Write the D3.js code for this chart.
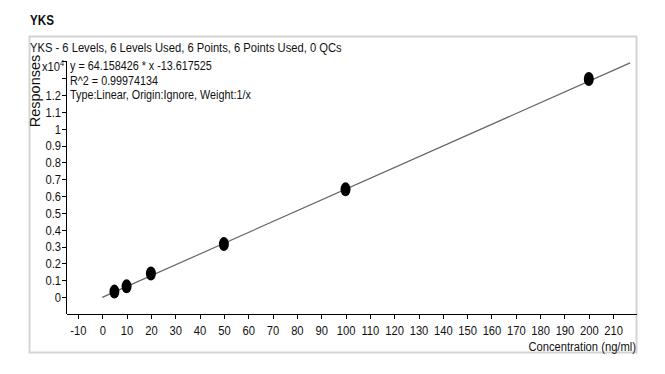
<!DOCTYPE html>
<meta charset="utf-8">
<title>YKS calibration</title>
<style>
body { margin: 0; background: #fff; }
text { font-family: "Liberation Sans", Arial, sans-serif; fill: #111; }
.axis path, .axis line { stroke: #000; shape-rendering: crispEdges; }
</style>
<body>
<svg></svg>
<script src="https://d3js.org/d3.v7.min.js"></script>
<script>

var width = 665,
    height = 374,
    narrowX = 0.83; // fake a narrow face, no Arial Narrow here

// calibration data (concentration ng/ml, response)
var concentrations = [5, 10, 20, 50, 100, 200];
var responses = [330, 640, 1400, 3150, 6400, 12950];
var slope = 64.158426,
    intercept = -13.617525;
var xTicks = d3.range(-10, 211, 10);
var yTicks = [0, 0.1, 0.2, 0.3, 0.4, 0.5, 0.6, 0.7, 0.8, 0.9, 1, 1.1, 1.2, 1.3, 1.4];
var yTickLabels = ["0", "0.1", "0.2", "0.3", "0.4", "0.5", "0.6", "0.7", "0.8", "0.9", "1", "1.1", "1.2", "", ""];
var infoLines = ["y = 64.158426 * x  -13.617525", "R^2 = 0.99974134", "Type:Linear, Origin:Ignore, Weight:1/x"];

var svg = d3.select("svg").attr("width", width).attr("height", height);

function ntext(px, py, str, size, anchor) {
    return svg.append("text")
        .attr("transform", "translate(" + px + "," + py + ") scale(" + narrowX + ",1)")
        .attr("text-anchor", anchor || "start")
        .style("font-size", size + "px")
        .text(str);
}

// outer panel
svg.append("rect")
    .attr("x", 29.5).attr("y", 36.5).attr("width", 607).attr("height", 316)
    .attr("fill", "none").attr("stroke", "#d4d4d4").attr("stroke-width", 2);

ntext(30, 25, "YKS", 14).style("font-weight", "bold");
ntext(30, 52, "YKS - 6 Levels, 6 Levels Used, 6 Points, 6 Points Used, 0 QCs", 13.5);

var x = d3.scaleLinear().domain([-14.9, 219.4]).range([66, 636]);
var y = d3.scaleLinear().domain([-0.1, 1.4]).range([314, 61.3]);

// x axis
var xAxis = svg.append("g")
    .attr("class", "axis")
    .attr("transform", "translate(0,314)")
    .call(d3.axisBottom(x).tickValues(xTicks).tickSize(5).tickSizeOuter(0)
        .tickFormat(d => String(d)));
xAxis.selectAll("text")
    .style("font-size", "13.5px")
    .attr("dy", "0.95em")
    .attr("fill", "#111")
    .attr("transform", "scale(" + narrowX + ",1)");

// y axis
var yAxis = svg.append("g")
    .attr("class", "axis")
    .attr("transform", "translate(66,0)")
    .call(d3.axisLeft(y).tickValues(yTicks).tickSize(4).tickSizeOuter(0)
        .tickFormat((d, i) => yTickLabels[i]));
yAxis.select(".domain").attr("d", "M0," + y(-0.1) + "V" + y(1.4));
yAxis.selectAll("text")
    .style("font-size", "13.5px")
    .attr("x", -5 / narrowX)
    .attr("fill", "#111")
    .attr("transform", "scale(" + narrowX + ",1)");

// exponent label
var expo = ntext(42, 71, "", 13.5);
expo.append("tspan").text("x10");
expo.append("tspan").attr("dy", -5).style("font-size", "9px").text("4");

svg.append("text")
    .attr("transform", "translate(40,91) rotate(-90)")
    .attr("text-anchor", "middle")
    .style("font-size", "14.5px")
    .text("Responses");

ntext(636, 351, "Concentration (ng/ml)", 13.5, "end");

infoLines.forEach((d, i) => ntext(70, [69.5, 84.5, 99][i], d, 13));

// regression line
var fitX = [0, 217];
svg.append("path")
    .datum(fitX)
    .attr("fill", "none")
    .attr("stroke", "#666")
    .attr("stroke-width", 1.2)
    .attr("d", d3.line()
        .x(d => x(d))
        .y(d => y((slope * d + intercept) / 10000)));

// calibration points
svg.append("g")
    .selectAll("ellipse")
    .data(concentrations)
    .enter()
    .append("ellipse")
    .attr("cx", d => x(d))
    .attr("cy", (d, i) => y(responses[i] / 10000))
    .attr("rx", 5)
    .attr("ry", 7)
    .attr("fill", "#000");

</script>
</body>
